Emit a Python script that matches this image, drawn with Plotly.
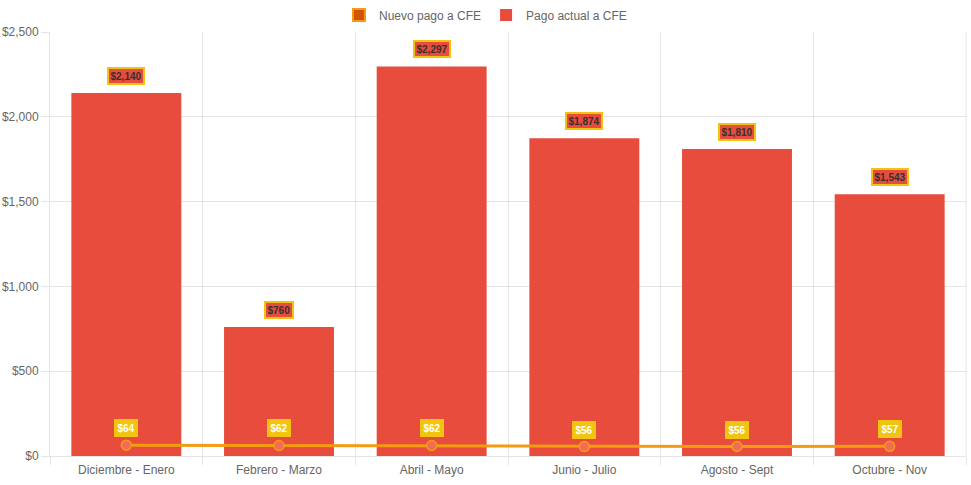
import plotly.graph_objects as go

categories = ["Diciembre - Enero", "Febrero - Marzo", "Abril - Mayo", "Junio - Julio", "Agosto - Sept", "Octubre - Nov"]
pago_actual = [2140, 760, 2297, 1874, 1810, 1543]
nuevo_pago = [64, 62, 62, 56, 56, 57]
y_ticks = [0, 500, 1000, 1500, 2000, 2500]
y_tick_labels = ["$0", "$500", "$1,000", "$1,500", "$2,000", "$2,500"]

RED = "#e74c3c"
ORANGE = "#f39c12"
DARK_ORANGE = "#d35400"
YELLOW = "#f1c40f"
GRID = "rgba(0,0,0,0.1)"
FONT = "Liberation Sans, Arial, Helvetica, sans-serif"

fig = go.Figure()

# legend-only entry for the line series (box style, like the original legend)
fig.add_trace(go.Bar(
    x=[categories[0]], y=[None], name="Nuevo pago a CFE",
    marker=dict(color=DARK_ORANGE, line=dict(color=ORANGE, width=3)),
    legendrank=1, hoverinfo="skip",
))

fig.add_trace(go.Bar(
    x=categories, y=pago_actual, name="Pago actual a CFE",
    marker=dict(color=RED, line=dict(width=0)),
    width=0.72, legendrank=2,
))

fig.add_trace(go.Scatter(
    x=categories, y=nuevo_pago, name="Nuevo pago a CFE",
    mode="lines+markers", showlegend=False,
    line=dict(color=ORANGE, width=3),
    marker=dict(size=10, color="#f26b5b", line=dict(color=ORANGE, width=1.5)),
))

annotations = []
for c, v in zip(categories, pago_actual):
    annotations.append(dict(
        x=c, y=v, xref="x", yref="y", yshift=17, showarrow=False,
        text=f"<b>${v:,}</b>", font=dict(family=FONT, size=10, color="#333333"),
        bgcolor=RED, bordercolor=YELLOW, borderwidth=2, borderpad=1.5,
    ))
for c, v in zip(categories, nuevo_pago):
    annotations.append(dict(
        x=c, y=v, xref="x", yref="y", yshift=17, showarrow=False,
        text=f"<b>${v:,}</b>", font=dict(family=FONT, size=10, color="white"),
        bgcolor=YELLOW, bordercolor=YELLOW, borderwidth=2, borderpad=1.5,
    ))

fig.update_layout(
    width=971, height=485,
    margin=dict(l=50, r=5, t=32, b=29, autoexpand=False),
    paper_bgcolor="white", plot_bgcolor="white",
    font=dict(family=FONT, size=12, color="#666666"),
    barmode="overlay",
    showlegend=True,
    legend=dict(orientation="h", x=0.5, xref="container", xanchor="center",
                y=1 + 17 / 424, yanchor="middle", font=dict(size=12, color="#666666"),
                itemsizing="constant"),
    annotations=annotations,
    xaxis=dict(
        type="category", tickson="boundaries", showgrid=True, gridcolor=GRID,
        ticks="outside", ticklen=8, tickcolor=GRID, showline=True, linecolor=GRID,
        range=[-0.5, 5.5], automargin=False, ticklabelstandoff=3,
    ),
    yaxis=dict(
        range=[0, 2500], tickvals=y_ticks, ticktext=y_tick_labels,
        showgrid=True, gridcolor=GRID, ticks="outside", ticklen=8, tickcolor=GRID,
        showline=True, linecolor=GRID, zeroline=False, automargin=False,
    ),
)

# right border line like chart.js last gridline
fig.add_shape(type="line", xref="paper", yref="paper", x0=1, x1=1, y0=0, y1=1,
              line=dict(color=GRID, width=1))

fig.write_html("out.html", config={"displayModeBar": False},
               post_script="document.body.style.margin='0px';document.body.style.overflow='hidden';")
